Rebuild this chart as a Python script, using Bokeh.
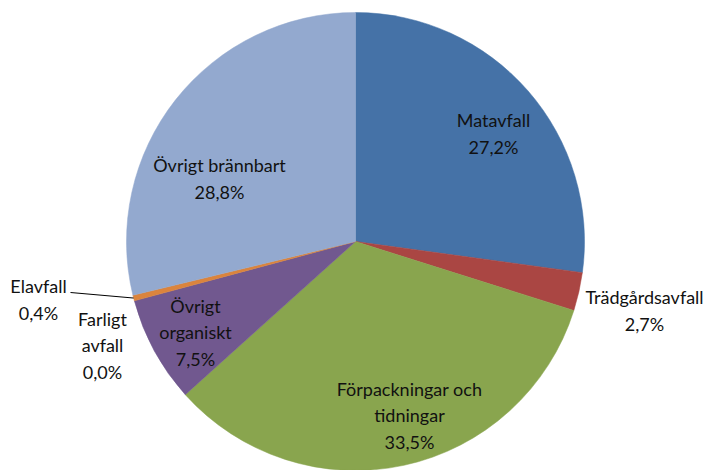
import math
from bokeh.plotting import figure
from bokeh.models import Range1d, ColumnDataSource
from bokeh.core.properties import value
from bokeh.embed import file_html
from bokeh.resources import INLINE

# ---- data ----
categories = ["Matavfall", "Trädgårdsavfall", "Förpackningar och\ntidningar",
              "Övrigt\norganiskt", "Farligt\navfall", "Elavfall", "Övrigt brännbart"]
shares = [27.2, 2.7, 33.5, 7.5, 0.0, 0.4, 28.8]
colors = ["#4572A7", "#AA4643", "#89A54E", "#71588F", "#4198AF", "#DB843D", "#93A9CF"]

# ---- layout (reference pixel coordinates; data y = H - pixel y) ----
W, H = 705, 470
CX, CY, R = 355, 241, 229
label_pos = [(493, 133), (644, 310), (409, 415), (195, 332), (102, 345), (38, 299), (219, 178)]
leader_start = (70, 292)

def py(y):
    return H - y

total = sum(shares)
starts, ends, mids = [], [], []
cum = 0.0
for s in shares:
    a0 = math.pi / 2 - cum / total * 2 * math.pi
    cum += s
    a1 = math.pi / 2 - cum / total * 2 * math.pi
    starts.append(a0)
    ends.append(a1)
    mids.append((a0 + a1) / 2)

p = figure(width=W, height=H, output_backend="svg", toolbar_location=None,
           x_range=Range1d(0, W), y_range=Range1d(0, H),
           min_border=0, outline_line_color=None)
p.axis.visible = False
p.grid.visible = False
p.background_fill_color = "white"
p.border_fill_color = "white"

keep = [i for i, s in enumerate(shares) if s > 0]
src = ColumnDataSource(dict(x=[CX] * len(keep), y=[py(CY)] * len(keep),
                            start=[starts[i] for i in keep], end=[ends[i] for i in keep],
                            color=[colors[i] for i in keep]))
p.wedge(x="x", y="y", radius=R, radius_units="screen", start_angle="start",
        end_angle="end", direction="clock", fill_color="color",
        line_color="color", line_width=0.5, source=src)

# leader line for Elavfall
i_el = categories.index("Elavfall")
ex = CX + R * math.cos(mids[i_el])
ey = py(CY) + R * math.sin(mids[i_el])
p.line(x=[leader_start[0], ex], y=[py(leader_start[1]), ey], line_color="#000000", line_width=1)

texts = [f"{c}\n{v:.1f}%".replace(".", ",") for c, v in zip(categories, shares)]
lsrc = ColumnDataSource(dict(x=[q[0] for q in label_pos], y=[py(q[1]) for q in label_pos], t=texts))
p.text(x="x", y="y", text="t", source=lsrc, text_align="center", text_baseline="middle",
       text_font=value("Lato"), text_font_size="18px", text_color="#111111",
       text_line_height=1.22)

open("out.html", "w").write(file_html(p, INLINE))
